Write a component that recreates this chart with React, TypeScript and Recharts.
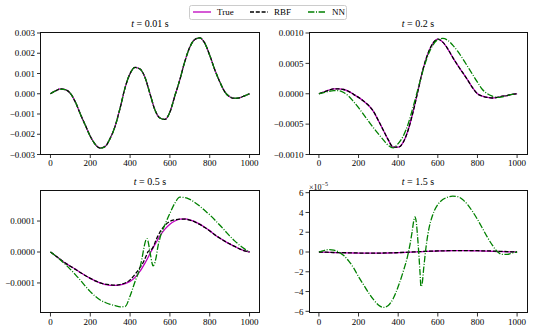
import { LineChart, Line, XAxis, YAxis } from 'recharts';

// x positions (top row uses an even grid, bottom row is denser around the NN wiggle)
const xCoarse = [
  0, 25, 50, 75, 100, 125, 150, 175, 200, 225, 250, 275, 300, 325, 350, 375, 400, 425, 450, 475,
  500, 525, 550, 575, 600, 625, 650, 675, 700, 725, 750, 775, 800, 825, 850, 875, 900, 925, 950, 975, 1000,
];
const xFine = [
  0, 25, 50, 75, 100, 125, 150, 175, 200, 225, 250, 275, 300, 325, 350, 375, 400, 425, 450,
  460, 470, 480, 485, 490, 500, 510, 515, 520, 530, 540, 550,
  575, 600, 625, 650, 675, 700, 725, 750, 775, 800, 825, 850, 875, 900, 925, 950, 975, 1000,
];
const xTicks = [0, 200, 400, 600, 800, 1000];

// t = 0.01 s
const true001 = [
  0, 0.00014, 0.00024, 0.0002, 0.00002, -0.0004, -0.001, -0.00155, -0.0021, -0.0025, -0.00268, -0.0026, -0.0022, -0.0016,
  -0.0007, 0.0003, 0.001, 0.0013, 0.00122, 0.0008, 0.0, -0.0008, -0.0012, -0.00127, -0.0009, -0.0001, 0.0007, 0.0016,
  0.0023, 0.00268, 0.00276, 0.0025, 0.0019, 0.0012, 0.0006, 0.0001, -0.00015, -0.00023, -0.0002, -0.0001, 0,
];
const rbf001 = [
  0, 0.00014, 0.00024, 0.0002, 0.00002, -0.0004, -0.001, -0.00155, -0.0021, -0.0025, -0.00268, -0.0026, -0.0022, -0.0016,
  -0.0007, 0.0003, 0.001, 0.0013, 0.00122, 0.0008, 0.0, -0.0008, -0.0012, -0.00127, -0.0009, -0.0001, 0.0007, 0.0016,
  0.0023, 0.00268, 0.00276, 0.0025, 0.0019, 0.0012, 0.0006, 0.0001, -0.00015, -0.00023, -0.0002, -0.0001, 0,
];
const nn001 = [
  0, 0.00014, 0.00023, 0.0002, 0.00002, -0.0004, -0.001, -0.00156, -0.0021, -0.0025, -0.00269, -0.0026, -0.0022, -0.0016,
  -0.0007, 0.0003, 0.001, 0.0013, 0.00122, 0.0008, 0.0, -0.0008, -0.0012, -0.00127, -0.0009, -0.0001, 0.0007, 0.0016,
  0.0023, 0.00268, 0.00276, 0.0025, 0.0019, 0.0012, 0.0006, 0.0001, -0.00014, -0.00022, -0.0002, -0.0001, 0,
];

// t = 0.2 s
const true02 = [
  0, 0.00003, 0.00006, 0.00008, 0.00008, 0.00007, 0.00004, -0.00001, -0.00006, -0.00012, -0.00019, -0.00029, -0.00044,
  -0.0006, -0.00076, -0.00088, -0.00088, -0.0008, -0.0006, -0.0003, 0.00005, 0.0004, 0.00066, 0.00083, 0.0009, 0.00085,
  0.00074, 0.0006, 0.00047, 0.00035, 0.00023, 0.0001, 0.0, -0.00004, -0.00006, -0.00007, -0.00006, -0.00004, -0.00003,
  -0.00001, 0,
];
const rbf02 = [
  0, 0.00003, 0.00006, 0.00008, 0.00008, 0.00007, 0.00004, -0.00001, -0.00006, -0.00012, -0.00019, -0.00029, -0.00044,
  -0.0006, -0.00076, -0.00088, -0.00088, -0.0008, -0.0006, -0.0003, 0.00005, 0.0004, 0.00066, 0.00083, 0.0009, 0.00085,
  0.00074, 0.0006, 0.00047, 0.00035, 0.00023, 0.0001, 0.0, -0.00004, -0.00006, -0.00007, -0.00006, -0.00004, -0.00003,
  -0.00001, 0,
];
const nn02 = [
  0, 0.00002, 0.00004, 0.00005, 0.00005, 0.00002, -0.00004, -0.00013, -0.00023, -0.00034, -0.00045, -0.00056, -0.00066,
  -0.00076, -0.00085, -0.00089, -0.00082, -0.0007, -0.0005, -0.00022, 0.00008, 0.00038, 0.00063, 0.0008, 0.00089, 0.00091,
  0.00088, 0.0008, 0.0007, 0.00058, 0.00045, 0.00032, 0.00019, 0.00007, 0.0, -0.00004, -0.00006, -0.00005, -0.00003,
  -0.00001, 0,
];

// t = 0.5 s
const true05 = [
  0, -0.000012, -0.000024, -0.000036, -0.000046, -0.000055, -0.000066, -0.000076, -0.000085, -0.000093, -0.0001,
  -0.000105, -0.000108, -0.000108, -0.000106, -0.000102, -0.000095, -0.000082, -0.000062,
  -0.000052, -0.000041, -0.00003, -0.000024, -0.000018, -0.000005, 0.000007, 0.000013, 0.000019, 0.00003, 0.000041, 0.000052,
  0.000074, 0.00009, 0.0001, 0.000106, 0.000107, 0.000104, 0.000098, 0.00009, 0.00008, 0.000069, 0.000056, 0.000045,
  0.000035, 0.000026, 0.000018, 0.00001, 0.000004, 0,
];
const rbf05 = [
  0, -0.000012, -0.000024, -0.000036, -0.000046, -0.000056, -0.000066, -0.000076, -0.000085, -0.000093, -0.0001,
  -0.000104, -0.000106, -0.000107, -0.000105, -0.0001, -0.00009, -0.000072, -0.00005,
  -0.00004, -0.000028, -0.000014, -0.000006, 0.000001, 0.000006, 0.00001, 0.000015, 0.000022, 0.000038, 0.000052, 0.000064,
  0.000086, 0.000099, 0.000104, 0.000106, 0.000106, 0.000103, 0.000097, 0.000089, 0.000079, 0.000068, 0.000056, 0.000045,
  0.000035, 0.000026, 0.000018, 0.00001, 0.000004, 0,
];
const nn05 = [
  0, -0.000012, -0.000026, -0.00004, -0.000056, -0.000073, -0.000091, -0.00011, -0.000128, -0.000143, -0.000155,
  -0.000163, -0.000169, -0.000173, -0.000177, -0.000176, -0.000142, -0.000095, -0.00005,
  -0.00002, 0.000015, 0.00004, 0.000043, 0.000035, 0.0, -0.000035, -0.000045, -0.000042, -0.00002, 0.000018, 0.000045,
  0.000088, 0.000125, 0.000158, 0.000177, 0.000176, 0.00017, 0.00016, 0.000148, 0.000134, 0.00012, 0.000104, 0.000087,
  0.00007, 0.000052, 0.000036, 0.000022, 0.00001, 0,
];

// t = 1.5 s
const true15 = [
  0, -0.02e-5, -0.04e-5, -0.06e-5, -0.07e-5, -0.08e-5, -0.09e-5, -0.1e-5, -0.11e-5, -0.12e-5, -0.12e-5, -0.12e-5,
  -0.12e-5, -0.11e-5, -0.1e-5, -0.09e-5, -0.07e-5, -0.05e-5, -0.03e-5,
  -0.02e-5, -0.01e-5, 0, 0, 0.01e-5, 0.02e-5, 0.03e-5, 0.03e-5, 0.04e-5, 0.05e-5, 0.06e-5, 0.07e-5,
  0.08e-5, 0.1e-5, 0.11e-5, 0.12e-5, 0.13e-5, 0.13e-5, 0.13e-5, 0.13e-5, 0.12e-5, 0.11e-5, 0.1e-5, 0.09e-5, 0.07e-5,
  0.05e-5, 0.04e-5, 0.02e-5, 0.01e-5, 0,
];
const rbf15 = [
  0, -0.01e-5, -0.03e-5, -0.05e-5, -0.06e-5, -0.07e-5, -0.08e-5, -0.09e-5, -0.1e-5, -0.11e-5, -0.11e-5, -0.11e-5,
  -0.11e-5, -0.1e-5, -0.09e-5, -0.08e-5, -0.06e-5, -0.04e-5, -0.02e-5,
  -0.01e-5, 0, 0.01e-5, 0.01e-5, 0.02e-5, 0.03e-5, 0.04e-5, 0.04e-5, 0.05e-5, 0.06e-5, 0.07e-5, 0.08e-5,
  0.09e-5, 0.11e-5, 0.12e-5, 0.13e-5, 0.14e-5, 0.14e-5, 0.14e-5, 0.14e-5, 0.14e-5, 0.13e-5, 0.12e-5, 0.11e-5, 0.1e-5,
  0.08e-5, 0.06e-5, 0.04e-5, 0.02e-5, 0,
];
const nn15 = [
  0, 0.15e-5, 0.24e-5, 0.18e-5, 0.0, -0.35e-5, -0.9e-5, -1.6e-5, -2.5e-5, -3.3e-5, -4.1e-5, -4.8e-5, -5.35e-5, -5.6e-5,
  -5.4e-5, -4.7e-5, -3.5e-5, -2.0e-5, -0.2e-5,
  0.8e-5, 2.0e-5, 3.3e-5, 3.55e-5, 3.2e-5, 1.0e-5, -2.0e-5, -3.5e-5, -3.3e-5, -1.4e-5, 0.4e-5, 1.8e-5,
  3.8e-5, 4.8e-5, 5.3e-5, 5.55e-5, 5.65e-5, 5.6e-5, 5.3e-5, 4.8e-5, 4.1e-5, 3.3e-5, 2.4e-5, 1.5e-5, 0.7e-5, 0.05e-5,
  -0.25e-5, -0.25e-5, -0.1e-5, 0,
];

const FONT = '"Liberation Serif", "DejaVu Serif", serif';
const TRUE_COLOR = '#bf00bf';
const RBF_COLOR = '#000000';
const NN_COLOR = '#008000';
const RBF_DASH = '4 1.8';
const NN_DASH = '6.4 1.6 1 1.6';

const minus = (s: string) => s.replace('-', '\u2212');

function build(xs: number[], tr: number[], rb: number[], nn: number[]) {
  return xs.map((x, i) => ({ x, tru: tr[i], rbf: rb[i], nn: nn[i] }));
}

interface PanelProps {
  left: number;
  top: number;
  plotW: number;
  plotH: number;
  yw: number;
  data: any[];
  yDomain: [number, number];
  yTicks: number[];
  fmt: (v: number) => string;
  title: string;
  offset?: boolean;
}

function Panel({ left, top, plotW, plotH, yw, data, yDomain, yTicks, fmt, title, offset }: PanelProps) {
  const mt = 8;
  const mr = 4;
  const xh = 18;
  const W = yw + plotW + mr;
  const H = mt + plotH + xh;
  const tick = { fontSize: 9, fill: '#000', fontFamily: FONT };

  return (
    <div style={{ position: 'absolute', left: left - yw, top: top - mt, width: W, height: H }}>
      <LineChart width={W} height={H} data={data} margin={{ top: mt, right: mr, bottom: 0, left: 0 }}>
        <XAxis
          dataKey="x"
          type="number"
          domain={[-50, 1050]}
          ticks={xTicks}
          interval={0}
          height={xh}
          tick={tick}
          tickSize={3.5}
          tickMargin={2}
          axisLine={false}
          tickLine={{ stroke: '#000', strokeWidth: 0.8 }}
          allowDataOverflow
        />
        <YAxis
          type="number"
          domain={yDomain}
          ticks={yTicks}
          interval={0}
          width={yw}
          tick={tick}
          tickSize={3.5}
          tickMargin={2}
          tickFormatter={fmt}
          axisLine={false}
          tickLine={{ stroke: '#000', strokeWidth: 0.8 }}
          allowDataOverflow
        />
        <Line type="monotone" dataKey="tru" stroke={TRUE_COLOR} strokeWidth={1.3} dot={false} isAnimationActive={false} />
        <Line type="monotone" dataKey="rbf" stroke={RBF_COLOR} strokeWidth={1.3} strokeDasharray={RBF_DASH} dot={false} isAnimationActive={false} />
        <Line type="monotone" dataKey="nn" stroke={NN_COLOR} strokeWidth={1.3} strokeDasharray={NN_DASH} dot={false} isAnimationActive={false} />
      </LineChart>
      {/* axes box */}
      <div
        style={{
          position: 'absolute',
          left: yw - 0.5,
          top: mt - 0.5,
          width: plotW + 1,
          height: plotH + 1,
          border: '1px solid #111',
          boxSizing: 'border-box',
          pointerEvents: 'none',
        }}
      />
      <div
        style={{
          position: 'absolute',
          left: yw,
          width: plotW,
          top: mt - 15,
          textAlign: 'center',
          fontFamily: FONT,
          fontSize: 10,
          lineHeight: '12px',
          color: '#000',
          whiteSpace: 'nowrap',
        }}
      >
        <i>t</i> = {title} s
      </div>
      {offset && (
        <div
          style={{
            position: 'absolute',
            left: yw,
            top: mt - 12,
            fontFamily: FONT,
            fontSize: 8,
            lineHeight: '10px',
            color: '#000',
          }}
        >
          ×10<sup style={{ fontSize: 6 }}>−5</sup>
        </div>
      )}
    </div>
  );
}

function LegendSample({ color, dash }: { color: string; dash?: string }) {
  return (
    <svg width={18} height={4} style={{ display: 'block' }}>
      <line x1={0} y1={2} x2={18} y2={2} stroke={color} strokeWidth={1.3} strokeDasharray={dash} />
    </svg>
  );
}

export default function App() {
  const d001 = build(xCoarse, true001, rbf001, nn001);
  const d02 = build(xCoarse, true02, rbf02, nn02);
  const d05 = build(xFine, true05, rbf05, nn05);
  const d15 = build(xFine, true15, rbf15, nn15);

  const items = [
    { name: 'True', color: TRUE_COLOR, dash: undefined, x: 3, tx: 27 },
    { name: 'RBF', color: RBF_COLOR, dash: RBF_DASH, x: 60, tx: 84 },
    { name: 'NN', color: NN_COLOR, dash: NN_DASH, x: 118, tx: 142 },
  ];

  return (
    <div style={{ position: 'absolute', left: 0, top: 0, width: 536, height: 331, background: '#fff', overflow: 'hidden' }}>
      <Panel
        left={40.5}
        top={32.5}
        plotW={219}
        plotH={121.5}
        yw={40.5}
        data={d001}
        yDomain={[-0.003, 0.003]}
        yTicks={[-0.003, -0.002, -0.001, 0, 0.001, 0.002, 0.003]}
        fmt={(v) => minus(v.toFixed(3))}
        title="0.01"
      />
      <Panel
        left={309}
        top={32.5}
        plotW={218}
        plotH={121.5}
        yw={41}
        data={d02}
        yDomain={[-0.001, 0.001]}
        yTicks={[-0.001, -0.0005, 0, 0.0005, 0.001]}
        fmt={(v) => minus(v.toFixed(4))}
        title="0.2"
      />
      <Panel
        left={40.5}
        top={190.5}
        plotW={219}
        plotH={122}
        yw={40.5}
        data={d05}
        yDomain={[-0.000197, 0.000197]}
        yTicks={[-0.0001, 0, 0.0001]}
        fmt={(v) => minus(v.toFixed(4))}
        title="0.5"
      />
      <Panel
        left={309}
        top={190.5}
        plotW={218}
        plotH={122}
        yw={41}
        data={d15}
        yDomain={[-6.17e-5, 6.17e-5]}
        yTicks={[-6e-5, -4e-5, -2e-5, 0, 2e-5, 4e-5, 6e-5]}
        fmt={(v) => minus(Math.round(v / 1e-5).toString())}
        title="1.5"
        offset
      />

      {/* legend */}
      <div
        style={{
          position: 'absolute',
          left: 189,
          top: 4.5,
          width: 158,
          height: 15,
          border: '1px solid #ccc',
          borderRadius: 2.5,
          boxSizing: 'border-box',
          background: '#fff',
          fontFamily: FONT,
          fontSize: 9,
          color: '#000',
        }}
      >
        {items.map((it) => (
          <div key={it.name}>
            <div style={{ position: 'absolute', left: it.x, top: 4.5 }}>
              <LegendSample color={it.color} dash={it.dash} />
            </div>
            <div style={{ position: 'absolute', left: it.tx, top: 1, lineHeight: '11px' }}>{it.name}</div>
          </div>
        ))}
      </div>
    </div>
  );
}
